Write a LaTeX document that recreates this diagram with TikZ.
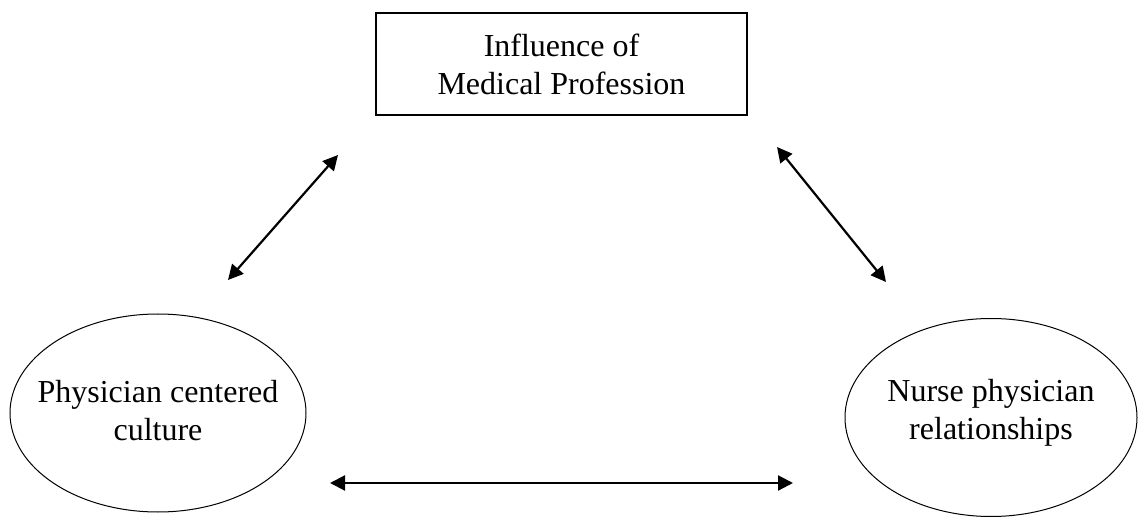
\documentclass[tikz,border=0pt]{standalone}
\usepackage{fontspec}
\setmainfont{Liberation Serif}
\usetikzlibrary{arrows.meta}
\begin{document}
\begin{tikzpicture}[x=1pt,y=-1pt,
  label text/.style={align=center,font=\fontsize{32}{38}\selectfont,inner sep=0pt},
  boxnode/.style={draw,line width=2pt,minimum width=371pt,minimum height=102pt,label text},
  oval/.style={line width=1pt},
  link/.style={line width=2.2pt,{Triangle[length=15pt,width=15pt]}-{Triangle[length=15pt,width=15pt]}}]
\useasboundingbox (0,0) rectangle (1138,518);

% top box and the two ellipse labels
\node[boxnode] (imp) at (561.5,64) {Influence of\\Medical Profession};
\node[label text] (pcc) at (158,411) {Physician centered\\culture};
\node[label text] (npr) at (991,413) {Nurse physician\\relationships};

% ellipse outlines around the labels
\draw[oval] (158,413) ellipse [x radius=148, y radius=99];
\draw[oval] (991,417.5) ellipse [x radius=146, y radius=99];

% free ends of the double-headed connectors
\coordinate (l1) at (228,280);
\coordinate (l2) at (338,155);
\coordinate (r1) at (777,147);
\coordinate (r2) at (886,282);
\coordinate (b1) at (330,483);
\coordinate (b2) at (793,483);

\draw[link] (l1) -- (l2);
\draw[link] (r1) -- (r2);
\draw[link] (b1) -- (b2);
\end{tikzpicture}
\end{document}
